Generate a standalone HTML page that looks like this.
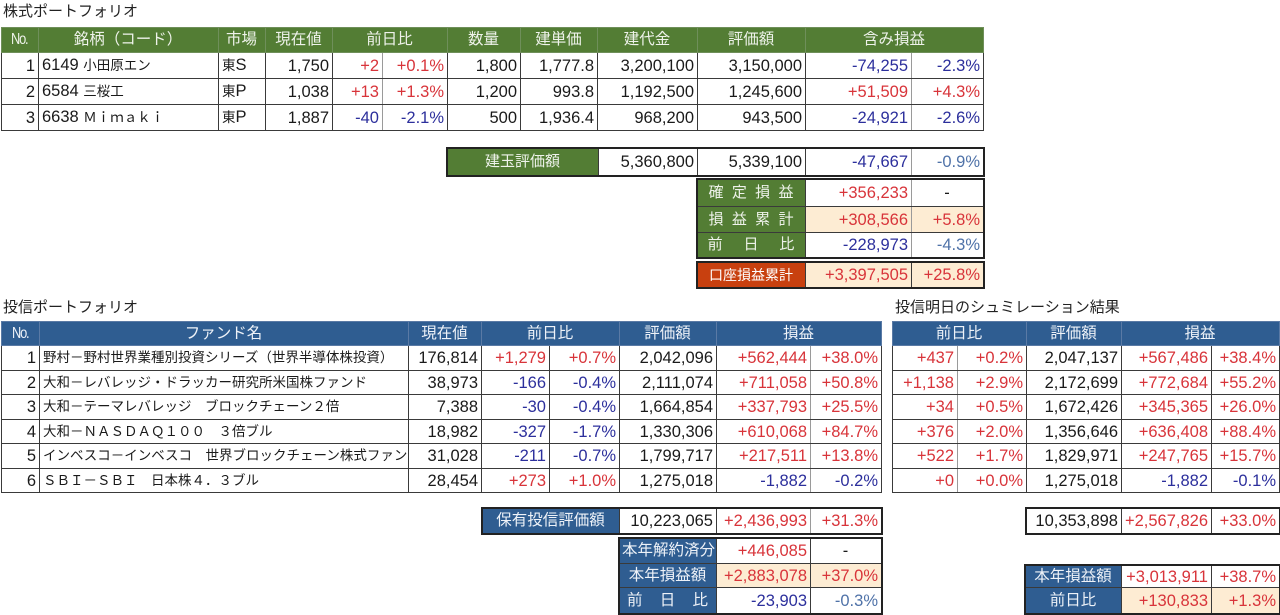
<!DOCTYPE html>
<html><head><meta charset="utf-8">
<style>
html,body{margin:0;padding:0;background:#fff;}
body{width:1280px;height:615px;position:relative;overflow:hidden;font-family:"Liberation Sans","Noto Sans CJK JP",sans-serif;color:#1a1a1a;}
.t{position:absolute;font-size:15px;white-space:nowrap;line-height:18px;font-family:"Liberation Sans","Noto Sans CJK JP",sans-serif;color:#222;}
table{position:absolute;border-collapse:collapse;table-layout:fixed;}
td{border:1px solid #3a3a3a;padding:0 3px 0 2px;white-space:nowrap;overflow:hidden;text-align:right;font-size:16.5px;line-height:20px;box-sizing:border-box;}
td.l{text-align:left;padding-left:3px;}
td.c{text-align:center;}
td.s{border-right-color:#9a9a9a;}
.gh td{background:#537d34;color:#eef2ea;text-align:center;font-size:15.5px;border-color:#6f8f5a;}
.bh td{background:#2f5d91;color:#eef2f8;text-align:center;font-size:15.5px;border-color:#5a7aa5;}
td.g{background:#537d34;color:#eef2ea;text-align:center;font-size:15px;}
td.b{background:#2f5d91;color:#eef2f8;text-align:center;font-size:15.5px;}
td.r0{background:#c8400f;color:#fff;text-align:center;font-size:14px;}
.r{color:#d8343a;}
.u{color:#2c2f9c;}
.lu{color:#4f72a8;}
.tan{background:#fdecd3;}
.j{font-size:13.5px;}
.no{font-size:16px;letter-spacing:-1.5px;display:inline-block;transform:scaleX(0.8);}
.blk{outline:2px solid #222;outline-offset:-1px;}
</style></head><body>

<div class="t" style="left:3px;top:3px;">株式ポートフォリオ</div>

<table style="left:1px;top:27px;width:982px;">
<colgroup><col style="width:37px"><col style="width:180px"><col style="width:47px"><col style="width:67px"><col style="width:50px"><col style="width:65px"><col style="width:73px"><col style="width:77px"><col style="width:100px"><col style="width:108px"><col style="width:106px"><col style="width:72px"></colgroup>
<tr class="gh" style="height:25px"><td><span class="no">No.</span></td><td>銘柄（コード）</td><td>市場</td><td>現在値</td><td colspan="2">前日比</td><td>数量</td><td>建単価</td><td>建代金</td><td>評価額</td><td colspan="2">含み損益</td></tr>
<tr style="height:26px"><td>1</td><td class="l">6149 <span class="j">小田原エン</span></td><td class="l"><span class="j">東</span>S</td><td>1,750</td><td class="s r">+2</td><td class="r">+0.1%</td><td>1,800</td><td>1,777.8</td><td>3,200,100</td><td>3,150,000</td><td class="s u">-74,255</td><td class="u">-2.3%</td></tr>
<tr style="height:26px"><td>2</td><td class="l">6584 <span class="j">三桜工</span></td><td class="l"><span class="j">東</span>P</td><td>1,038</td><td class="s r">+13</td><td class="r">+1.3%</td><td>1,200</td><td>993.8</td><td>1,192,500</td><td>1,245,600</td><td class="s r">+51,509</td><td class="r">+4.3%</td></tr>
<tr style="height:26px"><td>3</td><td class="l">6638 <span class="j">Ｍｉｍａｋｉ</span></td><td class="l"><span class="j">東</span>P</td><td>1,887</td><td class="s u">-40</td><td class="u">-2.1%</td><td>500</td><td>1,936.4</td><td>968,200</td><td>943,500</td><td class="s u">-24,921</td><td class="u">-2.6%</td></tr>
</table>

<table class="blk" style="left:447px;top:148px;width:536px;">
<colgroup><col style="width:151px"><col style="width:99px"><col style="width:108px"><col style="width:106px"><col style="width:72px"></colgroup>
<tr style="height:27px"><td class="g">建玉評価額</td><td>5,360,800</td><td>5,339,100</td><td class="s u">-47,667</td><td class="lu">-0.9%</td></tr>
</table>

<table class="blk" style="left:697px;top:179px;width:286px;">
<colgroup><col style="width:108px"><col style="width:106px"><col style="width:72px"></colgroup>
<tr style="height:27px"><td class="g">確&nbsp;&nbsp;定&nbsp;&nbsp;損&nbsp;&nbsp;益</td><td class="s r">+356,233</td><td class="c">-</td></tr>
<tr style="height:26px"><td class="g">損&nbsp;&nbsp;益&nbsp;&nbsp;累&nbsp;&nbsp;計</td><td class="s r tan">+308,566</td><td class="r tan">+5.8%</td></tr>
<tr style="height:25px"><td class="g">前&nbsp;&nbsp;&nbsp;&nbsp;&nbsp;日&nbsp;&nbsp;&nbsp;&nbsp;&nbsp;比</td><td class="s u">-228,973</td><td class="lu">-4.3%</td></tr>
</table>

<table class="blk" style="left:697px;top:262px;width:286px;">
<colgroup><col style="width:108px"><col style="width:106px"><col style="width:72px"></colgroup>
<tr style="height:25px"><td class="r0">口座損益累計</td><td class="r tan">+3,397,505</td><td class="r tan">+25.8%</td></tr>
</table>

<div class="t" style="left:3px;top:299px;">投信ポートフォリオ</div>
<div class="t" style="left:895px;top:299px;">投信明日のシュミレーション結果</div>

<table style="left:1px;top:321px;width:880px;">
<colgroup><col style="width:38px"><col style="width:369px"><col style="width:73px"><col style="width:68px"><col style="width:70px"><col style="width:97px"><col style="width:94px"><col style="width:71px"></colgroup>
<tr class="bh" style="height:24px"><td><span class="no">No.</span></td><td>ファンド名</td><td>現在値</td><td colspan="2">前日比</td><td>評価額</td><td colspan="2">損益</td></tr>
<tr style="height:25px"><td>1</td><td class="l j">野村－野村世界業種別投資シリーズ（世界半導体株投資）</td><td>176,814</td><td class="r">+1,279</td><td class="r">+0.7%</td><td>2,042,096</td><td class="s r">+562,444</td><td class="r">+38.0%</td></tr>
<tr style="height:24px"><td>2</td><td class="l j">大和－レバレッジ・ドラッカー研究所米国株ファンド</td><td>38,973</td><td class="u">-166</td><td class="u">-0.4%</td><td>2,111,074</td><td class="s r">+711,058</td><td class="r">+50.8%</td></tr>
<tr style="height:25px"><td>3</td><td class="l j">大和－テーマレバレッジ　ブロックチェーン２倍</td><td>7,388</td><td class="u">-30</td><td class="u">-0.4%</td><td>1,664,854</td><td class="s r">+337,793</td><td class="r">+25.5%</td></tr>
<tr style="height:24px"><td>4</td><td class="l j">大和－ＮＡＳＤＡＱ１００　３倍ブル</td><td>18,982</td><td class="u">-327</td><td class="u">-1.7%</td><td>1,330,306</td><td class="s r">+610,068</td><td class="r">+84.7%</td></tr>
<tr style="height:25px"><td>5</td><td class="l j">インベスコ－インベスコ　世界ブロックチェーン株式ファンド</td><td>31,028</td><td class="u">-211</td><td class="u">-0.7%</td><td>1,799,717</td><td class="s r">+217,511</td><td class="r">+13.8%</td></tr>
<tr style="height:24px"><td>6</td><td class="l j">ＳＢＩ－ＳＢＩ　日本株４．３ブル</td><td>28,454</td><td class="r">+273</td><td class="r">+1.0%</td><td>1,275,018</td><td class="s u">-1,882</td><td class="u">-0.2%</td></tr>
</table>

<table style="left:892px;top:321px;width:387px;">
<colgroup><col style="width:65px"><col style="width:69px"><col style="width:95px"><col style="width:90px"><col style="width:68px"></colgroup>
<tr class="bh" style="height:24px"><td colspan="2">前日比</td><td>評価額</td><td colspan="2">損益</td></tr>
<tr style="height:25px"><td class="s r">+437</td><td class="r">+0.2%</td><td>2,047,137</td><td class="r">+567,486</td><td class="r">+38.4%</td></tr>
<tr style="height:24px"><td class="s r">+1,138</td><td class="r">+2.9%</td><td>2,172,699</td><td class="r">+772,684</td><td class="r">+55.2%</td></tr>
<tr style="height:25px"><td class="s r">+34</td><td class="r">+0.5%</td><td>1,672,426</td><td class="r">+345,365</td><td class="r">+26.0%</td></tr>
<tr style="height:24px"><td class="s r">+376</td><td class="r">+2.0%</td><td>1,356,646</td><td class="r">+636,408</td><td class="r">+88.4%</td></tr>
<tr style="height:25px"><td class="s r">+522</td><td class="r">+1.7%</td><td>1,829,971</td><td class="r">+247,765</td><td class="r">+15.7%</td></tr>
<tr style="height:24px"><td class="s r">+0</td><td class="r">+0.0%</td><td>1,275,018</td><td class="u">-1,882</td><td class="u">-0.1%</td></tr>
</table>

<table class="blk" style="left:482px;top:508px;width:399px;">
<colgroup><col style="width:137px"><col style="width:97px"><col style="width:94px"><col style="width:71px"></colgroup>
<tr style="height:25px"><td class="b">保有投信評価額</td><td>10,223,065</td><td class="s r">+2,436,993</td><td class="r">+31.3%</td></tr>
</table>

<table class="blk" style="left:619px;top:538px;width:262px;">
<colgroup><col style="width:97px"><col style="width:94px"><col style="width:71px"></colgroup>
<tr style="height:25px"><td class="b">本年解約済分</td><td class="r">+446,085</td><td class="c">-</td></tr>
<tr style="height:24px"><td class="b">本年損益額</td><td class="r tan">+2,883,078</td><td class="r tan">+37.0%</td></tr>
<tr style="height:26px"><td class="b">前&nbsp;&nbsp;&nbsp;&nbsp;日&nbsp;&nbsp;&nbsp;&nbsp;比</td><td class="u">-23,903</td><td class="lu">-0.3%</td></tr>
</table>

<table class="blk" style="left:1026px;top:508px;width:253px;">
<colgroup><col style="width:95px"><col style="width:90px"><col style="width:68px"></colgroup>
<tr style="height:25px"><td>10,353,898</td><td class="r">+2,567,826</td><td class="r">+33.0%</td></tr>
</table>

<table class="blk" style="left:1025px;top:565px;width:254px;">
<colgroup><col style="width:96px"><col style="width:90px"><col style="width:68px"></colgroup>
<tr style="height:22px"><td class="b">本年損益額</td><td class="r">+3,013,911</td><td class="r">+38.7%</td></tr>
<tr style="height:26px"><td class="b">前日比</td><td class="r tan">+130,833</td><td class="r tan">+1.3%</td></tr>
</table>

</body></html>
